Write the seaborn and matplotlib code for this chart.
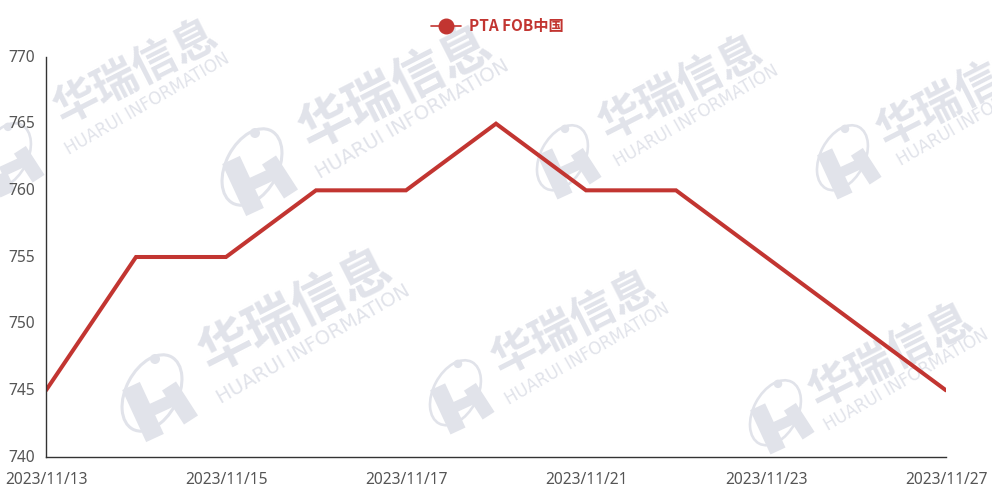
import matplotlib
matplotlib.use("Agg")
import matplotlib.pyplot as plt
from matplotlib.lines import Line2D
from matplotlib.patches import Ellipse, Circle
from matplotlib.transforms import ScaledTranslation
import pandas as pd
import seaborn as sns

dates = ["2023/11/13", "2023/11/14", "2023/11/15", "2023/11/16", "2023/11/17", "2023/11/20",
         "2023/11/21", "2023/11/22", "2023/11/23", "2023/11/24", "2023/11/27"]
prices = [745, 755, 755, 760, 760, 765, 760, 760, 755, 750, 745]
series_name = "PTA FOB中国"
y_ticks = [740, 745, 750, 755, 760, 765, 770]

RED = "#c23531"
TXT = "#555555"
AXC = "#333333"
WM = "#e1e3ea"

sns.set_theme(style="white")
plt.rcParams["font.family"] = ["Noto Sans", "Noto Sans CJK SC", "DejaVu Sans"]

W, H = 992, 500
fig = plt.figure(figsize=(W / 100, H / 100), dpi=100, facecolor="white")

# watermark layer in pixel coordinates
bg = fig.add_axes([0, 0, 1, 1], zorder=0)
bg.set_xlim(0, W)
bg.set_ylim(H, 0)
bg.axis("off")
# (chinese centre, english centre, logo centre, scale)
marks = [
    ((136, 72), (147, 104), (8, 160), 0.85),
    ((396, 89), (412, 119), (255, 172), 1.0),
    ((681, 88), (696, 116), (565, 162), 0.85),
    ((959, 95), (979, 115), (845, 162), 0.85),
    ((296, 312), (313, 344), (155, 398), 1.0),
    ((574, 323), (587, 354), (458, 397), 0.85),
    ((891, 356), (906, 380), (778, 417), 0.85),
]
for cn, en, logo, s in marks:
    bg.text(*cn, "华瑞信息", rotation=27, rotation_mode="anchor", ha="center", va="center",
            fontsize=32 * s / 0.85, fontweight="bold", color=WM, family="Noto Sans CJK SC", clip_on=True)
    bg.text(*en, "HUARUI INFORMATION", rotation=30, rotation_mode="anchor", ha="center", va="center",
            fontsize=12 * s / 0.85, color=WM, family="DejaVu Sans", clip_on=True)
    x, y = logo
    bg.add_patch(Ellipse((x - 3 * s, y - 5 * s), 52 * s, 82 * s, angle=28, fill=False, ec=WM, lw=2.2 * s))
    bg.add_patch(Circle((x, y - 39 * s), 5 * s, fc=WM, ec="none"))
    for x0, y0, x1, y1, lw in [(-24, -12, 0, 40, 14), (14, -12, 36, 22, 12), (-8, 14, 18, 2, 9)]:
        bg.plot([x + x0 * s, x + x1 * s], [y + y0 * s, y + y1 * s], color=WM, lw=lw * s, solid_capstyle="butt")
bg.set_xlim(0, W)
bg.set_ylim(H, 0)

# chart
ax = fig.add_axes([46 / W, 1 - 457 / H, 900 / W, 400 / H], zorder=1)
ax.patch.set_alpha(0)
df = pd.DataFrame({"date": dates, "price": prices})
sns.lineplot(data=df, x="date", y="price", ax=ax, color=RED, linewidth=2.9, sort=False,
             errorbar=None, legend=False, solid_joinstyle="miter")
ax.set_xlim(0, len(dates) - 1)
ax.set_ylim(740, 770)
ax.set_xlabel("")
ax.set_ylabel("")
ax.set_xticks(range(0, len(dates), 2))
ax.set_xticklabels(dates[::2])
ax.set_yticks(y_ticks)
ax.tick_params(axis="both", length=5, width=1, color=AXC, labelcolor=TXT, labelsize=11.2, pad=3)
ax.tick_params(axis="x", pad=6)
shift = ScaledTranslation(0, 1.5 / 100, fig.dpi_scale_trans)
for label in ax.get_yticklabels():
    label.set_transform(label.get_transform() + shift)
for s in ["top", "right"]:
    ax.spines[s].set_visible(False)
for s in ["left", "bottom"]:
    ax.spines[s].set_color(AXC)
    ax.spines[s].set_linewidth(1)

handle = Line2D([], [], color=RED, lw=1.2, marker="o", markersize=10.5, markerfacecolor=RED, markeredgecolor=RED)
fig.legend([handle], [series_name], loc="center", bbox_to_anchor=(497 / W, 1 - 26 / H), frameon=False,
           handlelength=2.0, handletextpad=0.5,
           prop={"family": "Noto Sans CJK SC", "size": 11, "weight": "bold"}, labelcolor=RED)

fig.savefig("out.png", dpi=100)
